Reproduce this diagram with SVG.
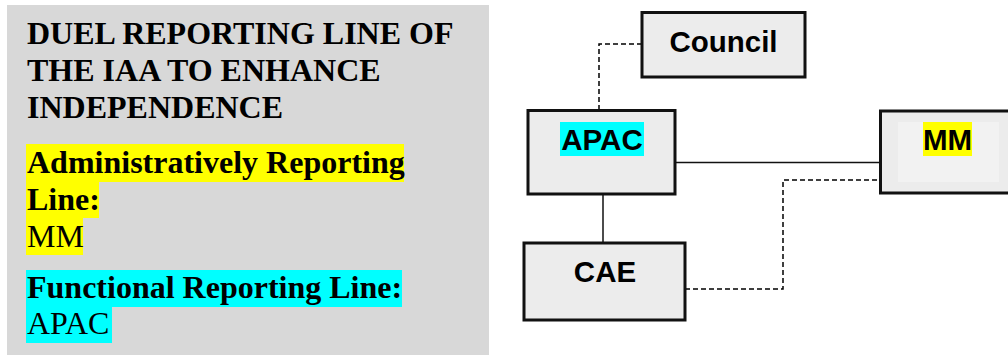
<svg xmlns="http://www.w3.org/2000/svg" width="1008" height="358" viewBox="0 0 1008 358">
<style>
.panel{fill:#d8d8d8}
.ttl{font-family:"Liberation Serif","Times New Roman",serif;font-size:32px;fill:#000}
.b{font-weight:bold}
.box{fill:#ececec;stroke:#111;stroke-width:3}
.lbl{font-family:"Liberation Sans",Arial,sans-serif;font-size:29.5px;font-weight:bold;fill:#000;text-anchor:middle}
.solid{stroke:#111;stroke-width:1.5;fill:none}
.dash{stroke:#000;stroke-width:1.5;fill:none;stroke-dasharray:5,3}
</style>
<g id="panel">
<rect class="panel" x="7" y="5" width="482" height="350"/>
<rect x="26" y="144" width="378" height="38" fill="#ffff00"/>
<rect x="26" y="182" width="73" height="36" fill="#ffff00"/>
<rect x="26" y="218" width="57" height="37" fill="#ffff00"/>
<rect x="26" y="270" width="376" height="37" fill="#00ffff"/>
<rect x="26" y="307" width="86" height="36" fill="#00ffff"/>
<text class="ttl b" x="27" y="44">DUEL REPORTING LINE OF</text>
<text class="ttl b" x="27" y="81">THE IAA TO ENHANCE</text>
<text class="ttl b" x="27" y="118">INDEPENDENCE</text>
<text class="ttl b" x="27" y="173">Administratively Reporting</text>
<text class="ttl b" x="27" y="210">Line:</text>
<text class="ttl" x="27" y="247">MM</text>
<text class="ttl b" x="27" y="298">Functional Reporting Line:</text>
<text class="ttl" x="27" y="334">APAC</text>
</g>
<g id="connectors">
<path class="dash" d="M599,110 V44 H642"/>
<path class="solid" d="M675,162.5 H880"/>
<path class="solid" d="M603,194 V243"/>
<path class="dash" d="M685,289 H783 V180 H880"/>
</g>
<g id="council">
<rect class="box" x="642" y="12.5" width="163" height="64.5"/>
<text class="lbl" x="723.5" y="52">Council</text>
</g>
<g id="apac">
<rect class="box" x="528" y="110.5" width="147" height="83.5"/>
<rect x="560" y="122" width="84" height="34" fill="#00ffff"/>
<text class="lbl" x="602" y="150">APAC</text>
</g>
<g id="mm">
<rect class="box" x="880.5" y="111" width="140" height="82"/>
<rect x="898" y="122" width="101" height="60" fill="#f2f2f2"/>
<rect x="923" y="122" width="49" height="34" fill="#ffff00"/>
<text class="lbl" x="947.5" y="150">MM</text>
</g>
<g id="cae">
<rect class="box" x="524" y="243" width="161" height="77"/>
<text class="lbl" x="605" y="282">CAE</text>
</g>
</svg>
